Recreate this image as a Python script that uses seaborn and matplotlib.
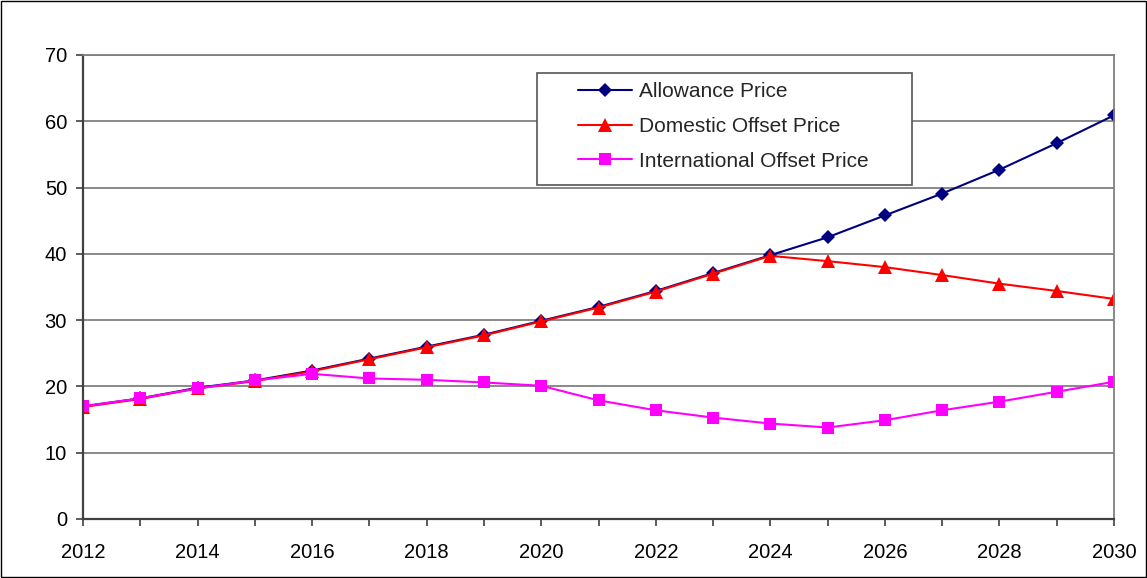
import pandas as pd
import matplotlib.pyplot as plt
import seaborn as sns

years = list(range(2012, 2031))
allowance = [17.0, 18.2, 19.8, 20.9, 22.4, 24.2, 26.0, 27.8, 29.9, 32.0, 34.4, 37.1, 39.8,
             42.5, 45.8, 49.1, 52.7, 56.7, 60.9]
domestic = [16.9, 18.1, 19.7, 20.8, 22.3, 24.1, 25.9, 27.7, 29.8, 31.9, 34.3, 37.0, 39.7,
            38.9, 38.0, 36.8, 35.5, 34.4, 33.2]
international = [17.0, 18.2, 19.7, 20.9, 21.9, 21.2, 21.0, 20.6, 20.1, 17.9, 16.4, 15.3, 14.4,
                 13.8, 14.9, 16.4, 17.7, 19.2, 20.7]

df = pd.DataFrame({"year": years, "Allowance Price": allowance,
                   "Domestic Offset Price": domestic,
                   "International Offset Price": international})

sns.set_style("white")
plt.rcParams['font.family'] = ['Liberation Sans', 'DejaVu Sans']

W, H = 1147, 578
fig = plt.figure(figsize=(W / 100, H / 100), dpi=100)
ax = fig.add_axes([83 / W, 1 - 519 / H, (1114 - 83) / W, (519 - 55) / H])

sns.lineplot(data=df, x="year", y="Allowance Price", ax=ax, color="#000080", marker="D",
             markersize=7, markeredgewidth=0, linewidth=1.5, label="Allowance Price")
sns.lineplot(data=df, x="year", y="Domestic Offset Price", ax=ax, color="#FF0000", marker="^",
             markersize=10, markeredgewidth=0, linewidth=1.5, label="Domestic Offset Price")
sns.lineplot(data=df, x="year", y="International Offset Price", ax=ax, color="#FF00FF", marker="s",
             markersize=8.5, markeredgewidth=0, linewidth=1.5, label="International Offset Price")

ax.set_xlim(2012, 2030)
ax.set_ylim(0, 70)
ax.set_xticks(range(2012, 2031, 2))
ax.set_xticks(range(2012, 2031), minor=True)
ax.set_yticks(range(0, 71, 10))
ax.set_xlabel("")
ax.set_ylabel("")
ax.grid(axis="y", color="#808080", linewidth=1.3)
ax.set_axisbelow(True)
ax.tick_params(axis="both", which="both", direction="out", length=5, width=1.2,
               color="#404040", labelsize=14.5, labelcolor="black", bottom=True, left=True)
ax.tick_params(axis="x", which="both", pad=12)
ax.tick_params(axis="y", pad=6.5)
for side in ["top", "right"]:
    ax.spines[side].set_color("#808080")
    ax.spines[side].set_linewidth(1.3)
for side in ["left", "bottom"]:
    ax.spines[side].set_color("#404040")
    ax.spines[side].set_linewidth(1.6)

# legend frame drawn separately (Excel-style wide side padding)
frame = plt.Rectangle((537 / W, 1 - 185 / H), (912 - 537) / W, (185 - 73) / H,
                      transform=fig.transFigure, facecolor="white", edgecolor="#555555",
                      linewidth=1.2, zorder=4)
ax.add_artist(frame)
frame.set_clip_on(False)
leg = ax.legend(loc="center left", bbox_to_anchor=(578 / W, 1 - 126.5 / H),
                bbox_transform=fig.transFigure, fontsize=15, frameon=False,
                borderpad=0, labelspacing=0.75, handlelength=2.6, handletextpad=0.35,
                borderaxespad=0)
leg.set_zorder(5)

fig.patches.append(plt.Rectangle((0.001, 0.001), 0.998, 0.998, transform=fig.transFigure,
                                 fill=False, edgecolor="black", linewidth=1))

fig.savefig("out.png", dpi=100)
